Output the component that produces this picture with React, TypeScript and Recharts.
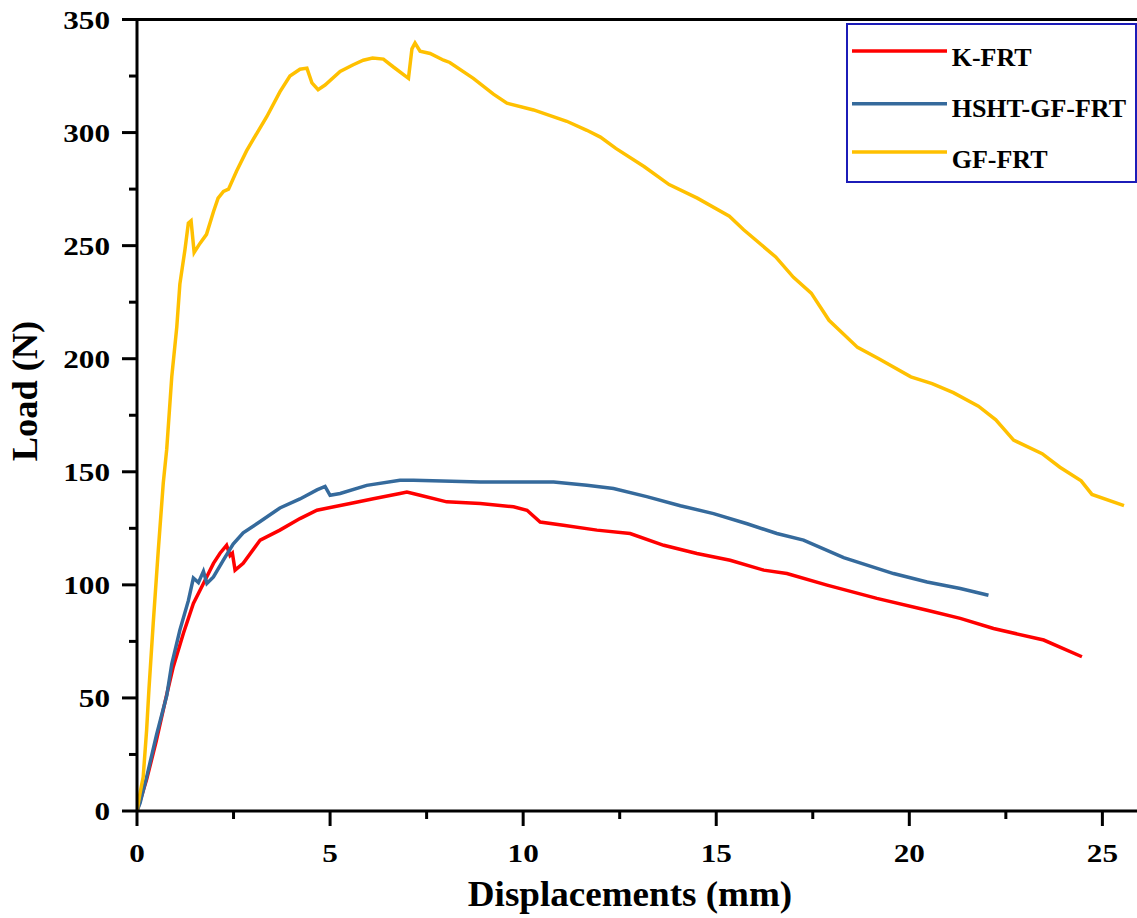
import React from "react";
import { LineChart, Line, XAxis, YAxis, ReferenceLine, Legend } from "recharts";

// ---- Data ----
const kfrtX = [0, 0.25, 0.5, 0.75, 0.94, 1.2, 1.46, 1.72, 1.98, 2.15, 2.32, 2.41, 2.47, 2.54, 2.75, 3.19, 3.7, 4.22, 4.66, 5.52, 6.12, 6.81, 6.99, 7.33, 8.02, 8.89, 9.75, 10.1, 10.44, 11.04, 11.91, 12.77, 13.64, 14.5, 15.36, 16.23, 16.83, 17.87, 19.16, 20.46, 21.32, 22.18, 23.48, 24.47];
const kfrtY = [0, 14, 31, 50, 63.8, 78.5, 91.8, 100.6, 109.5, 114, 117.5, 113, 114, 106.5, 109.5, 119.8, 124.2, 129.3, 133, 136, 138.1, 140.4, 141, 139.6, 136.7, 136, 134.5, 133, 127.8, 126.4, 124.2, 122.7, 117.5, 113.9, 110.9, 106.5, 105, 99.9, 94, 88.8, 85.2, 80.7, 75.6, 68.2];

const hshtX = [0, 0.08, 0.25, 0.51, 0.77, 0.9, 1.11, 1.33, 1.46, 1.59, 1.72, 1.81, 1.98, 2.24, 2.49, 2.75, 3.19, 3.7, 4.22, 4.66, 4.87, 5.0, 5.26, 5.95, 6.81, 7.16, 8.89, 9.75, 10.79, 11.65, 12.34, 13.2, 14.07, 14.93, 15.8, 16.57, 17.26, 18.3, 19.59, 20.46, 21.32, 22.05];
const hshtY = [0, 3.5, 15, 34, 51, 65, 80, 93, 103, 101, 106, 100.6, 103.5, 111, 118, 123, 128, 134, 138, 142, 143.5, 139.6, 140.4, 144, 146.3, 146.3, 145.5, 145.5, 145.5, 144, 142.6, 139, 135, 131.5, 127, 122.7, 119.8, 112, 105, 101.3, 98.4, 95.4];

const gfX = [0, 0.08, 0.16, 0.25, 0.31, 0.42, 0.55, 0.68, 0.77, 0.9, 1.03, 1.11, 1.24, 1.33, 1.4, 1.48, 1.63, 1.8, 1.98, 2.1, 2.24, 2.37, 2.58, 2.84, 3.01, 3.36, 3.7, 3.96, 4.22, 4.4, 4.53, 4.69, 4.87, 5.26, 5.6, 5.86, 6.1, 6.38, 6.64, 7.03, 7.12, 7.2, 7.33, 7.59, 7.94, 8.1, 8.71, 9.23, 9.58, 10.27, 11.13, 11.65, 12.0, 12.4, 13.13, 13.78, 14.51, 15.34, 15.71, 16.54, 17.0, 17.46, 17.92, 18.66, 19.21, 20.04, 20.59, 21.14, 21.79, 22.24, 22.7, 23.44, 23.9, 24.45, 24.73, 25.56];
const gfY = [0, 8, 15, 36, 54, 83, 115, 145, 160, 192, 214, 233, 248, 260, 261, 247, 251, 255, 265, 271, 274, 275, 283, 292, 297, 307, 318, 325, 328, 328.5, 322, 319, 321, 327, 330, 332, 333, 332.5, 329, 324, 337, 339.6, 336, 335, 332, 331, 324, 317, 313, 310, 305, 301, 298, 293, 285, 277, 271, 263, 257, 245, 236, 229, 217, 205, 200, 192, 189, 185, 179, 173, 164, 158, 152, 146, 140, 135];

const xTicks = [0, 2.5, 5, 7.5, 10, 12.5, 15, 17.5, 20, 22.5, 25];
const yTicks = [0, 25, 50, 75, 100, 125, 150, 175, 200, 225, 250, 275, 300, 325, 350];

const seriesNames = ["K-FRT", "HSHT-GF-FRT", "GF-FRT"];
const seriesColors = ["#ff0000", "#356a9c", "#ffc000"];

const toPoints = (xs: number[], ys: number[]) => xs.map((x, i) => ({ x, y: ys[i] }));
const kfrtData = toPoints(kfrtX, kfrtY);
const hshtData = toPoints(hshtX, hshtY);
const gfData = toPoints(gfX, gfY);

const FONT = '"Liberation Serif", "Times New Roman", serif';

const YTick = (props: any) => {
  const { x, y, payload } = props;
  const v = payload.value;
  const major = v % 50 === 0;
  return (
    <g>
      <line x1={x - (major ? 15 : 8)} x2={x} y1={y} y2={y} stroke="#000" strokeWidth={3} />
      {major && (
        <text
          transform={`translate(${x - 27},${y + 9}) scale(1.2,1)`}
          textAnchor="end"
          fontFamily={FONT}
          fontWeight="bold"
          fontSize={26}
          fill="#000"
        >
          {v}
        </text>
      )}
    </g>
  );
};

const XTick = (props: any) => {
  const { x, y, payload } = props;
  const v = payload.value;
  const major = v % 5 === 0;
  return (
    <g>
      <line x1={x} x2={x} y1={y} y2={y + (major ? 15 : 8)} stroke="#000" strokeWidth={3} />
      {major && (
        <text
          transform={`translate(${x},${y + 51}) scale(1.2,1)`}
          textAnchor="middle"
          fontFamily={FONT}
          fontWeight="bold"
          fontSize={26}
          fill="#000"
        >
          {v}
        </text>
      )}
    </g>
  );
};

const XTitle = () => (
  <text
    transform="translate(630,906) scale(1.06,1)"
    textAnchor="middle"
    fontFamily={FONT}
    fontWeight="bold"
    fontSize={35}
    fill="#000"
  >
    Displacements (mm)
  </text>
);

const YTitle = () => (
  <text
    transform="translate(37,391) rotate(-90) scale(1.04,1)"
    textAnchor="middle"
    fontFamily={FONT}
    fontWeight="bold"
    fontSize={35}
    fill="#000"
  >
    Load (N)
  </text>
);

const LegendBox = () => (
  <svg width={292} height={161} style={{ display: "block" }}>
    <rect x={1} y={1} width={289} height={158} fill="#fff" stroke="#1c1cb8" strokeWidth={2} />
    {seriesNames.map((name, i) => {
      const lineY = [28, 80.7, 129][i];
      const textY = [42.5, 94.3, 144.5][i];
      return (
        <g key={name}>
          <line x1={6} x2={101} y1={lineY} y2={lineY} stroke={seriesColors[i]} strokeWidth={3.5} />
          <text x={105.7} y={textY} fontFamily={FONT} fontWeight="bold" fontSize={26} fill="#000">
            {name}
          </text>
        </g>
      );
    })}
  </svg>
);

export default function App() {
  return (
    <div
      style={{
        position: "absolute",
        left: 0,
        top: 0,
        width: 1137,
        height: 918,
        overflow: "hidden",
        background: "#fff",
      }}
    >
      <LineChart width={1141} height={918} margin={{ top: 19.5, right: 0, bottom: 0, left: 0 }}>
        <XAxis
          type="number"
          dataKey="x"
          domain={[0, 26]}
          ticks={xTicks}
          interval={0}
          allowDataOverflow
          height={107}
          tickSize={0}
          tickMargin={0}
          tickLine={false}
          tick={<XTick />}
          axisLine={{ stroke: "#000", strokeWidth: 3 }}
          label={{ content: <XTitle /> }}
        />
        <YAxis
          type="number"
          domain={[0, 350]}
          ticks={yTicks}
          interval={0}
          allowDataOverflow
          width={137}
          tickSize={0}
          tickMargin={0}
          tickLine={false}
          tick={<YTick />}
          axisLine={{ stroke: "#000", strokeWidth: 3 }}
          label={{ content: <YTitle /> }}
        />
        <ReferenceLine y={350} stroke="#000" strokeWidth={3} />
        <Legend
          layout="vertical"
          align="center"
          verticalAlign="middle"
          content={() => <LegendBox />}
          wrapperStyle={{ left: 846, top: 23, width: 292, height: 161 }}
        />
        <Line
          data={kfrtData}
          dataKey="y"
          name={seriesNames[0]}
          type="linear"
          stroke={seriesColors[0]}
          strokeWidth={3.5}
          dot={false}
          isAnimationActive={false}
        />
        <Line
          data={hshtData}
          dataKey="y"
          name={seriesNames[1]}
          type="linear"
          stroke={seriesColors[1]}
          strokeWidth={3.5}
          dot={false}
          isAnimationActive={false}
        />
        <Line
          data={gfData}
          dataKey="y"
          name={seriesNames[2]}
          type="linear"
          stroke={seriesColors[2]}
          strokeWidth={3.5}
          dot={false}
          isAnimationActive={false}
        />
      </LineChart>
    </div>
  );
}
